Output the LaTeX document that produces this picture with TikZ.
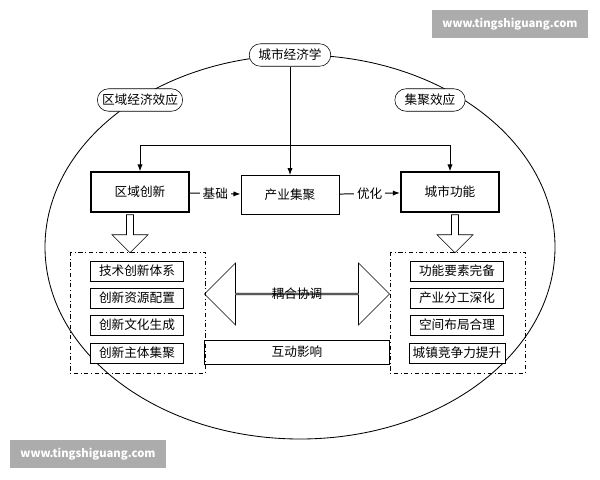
\documentclass[tikz,border=0pt]{standalone}
\usepackage{fontspec}
\setmainfont{Noto Sans CJK SC}
\usetikzlibrary{shapes.arrows,shapes.geometric,arrows.meta}
\begin{document}
\begin{tikzpicture}[x=0.025cm,y=-0.025cm,font=\small,
 box/.style={draw,minimum width=70pt,minimum height=28pt,fill=white},
 tbox/.style={box,line width=1.3pt},
 tag/.style={draw,rounded corners=8pt,minimum width=58pt,minimum height=16pt,fill=white},
 item/.style={draw,minimum width=66pt,minimum height=14pt,inner sep=1pt,fill=white},
 grp/.style={draw,dash dot,line width=0.6pt},
 arr/.style={-{Latex[length=5pt]},line width=0.7pt},
 wm/.style={fill=gray!65,text=white,font=\footnotesize\bfseries,minimum width=156*0.025cm,minimum height=28*0.025cm}]
\useasboundingbox (0,0) rectangle (600,480);
\fill[white] (0,0) rectangle (600,480);
\draw[line width=0.6pt] (300,247) ellipse [x radius=255, y radius=192];
\node[tag] (econ) at (290,55) {城市经济学};
\node[tag] (reg) at (140,100) {区域经济效应};
\node[tag,minimum width=50pt] (agg) at (430,100) {集聚效应};
\node[tbox] (inno) at (140,192) {区域创新};
\node[box] (ind) at (290,195) {产业集聚};
\node[tbox] (func) at (450,192) {城市功能};
\draw[arr] (econ) -- (ind);
\coordinate (hl) at (140,145); \coordinate (hr) at (450,145);
\draw[line width=0.7pt] (hl) -- (hr);
\draw[arr] (hl) -- (inno);
\draw[arr] (hr) -- (func);
\draw[arr] (inno) -- node[fill=white,inner sep=2pt]{基础} (ind);
\draw[arr] (ind) -- node[fill=white,inner sep=2pt]{优化} (func);
\node[single arrow,draw,shape border rotate=270,minimum height=38*0.025cm,minimum width=36*0.025cm,single arrow head extend=5pt,inner sep=1pt] (da1) at (130,232) {};
\node[single arrow,draw,shape border rotate=270,minimum height=38*0.025cm,minimum width=36*0.025cm,single arrow head extend=5pt,inner sep=1pt] (da2) at (455,232) {};
\draw[grp] (70,252) rectangle (205,373);
\draw[grp] (390,252) rectangle (525,373);
\node[item] (a1) at (137,271) {技术创新体系};
\node[item] (a2) at (137,298) {创新资源配置};
\node[item] (a3) at (137,325) {创新文化生成};
\node[item] (a4) at (137,353) {创新主体集聚};
\node[item] (b1) at (457,271) {功能要素完备};
\node[item] (b2) at (457,298) {产业分工深化};
\node[item] (b3) at (457,325) {空间布局合理};
\node[item,minimum width=68pt] (b4) at (457,353) {城镇竞争力提升};
\node[double arrow,draw,minimum width=62*0.025cm,minimum height=185*0.025cm,double arrow head extend=8pt,inner sep=0pt] (dbl) at (297,294) {};
\node at (297,294) {耦合协调};
\node[draw,minimum width=185*0.025cm,minimum height=24*0.025cm,inner sep=0pt] (mut) at (297,352) {互动影响};
\node[wm] at (510,24) {www.tingshiguang.com};
\node[wm] at (88,454) {www.tingshiguang.com};
\end{tikzpicture}
\end{document}
